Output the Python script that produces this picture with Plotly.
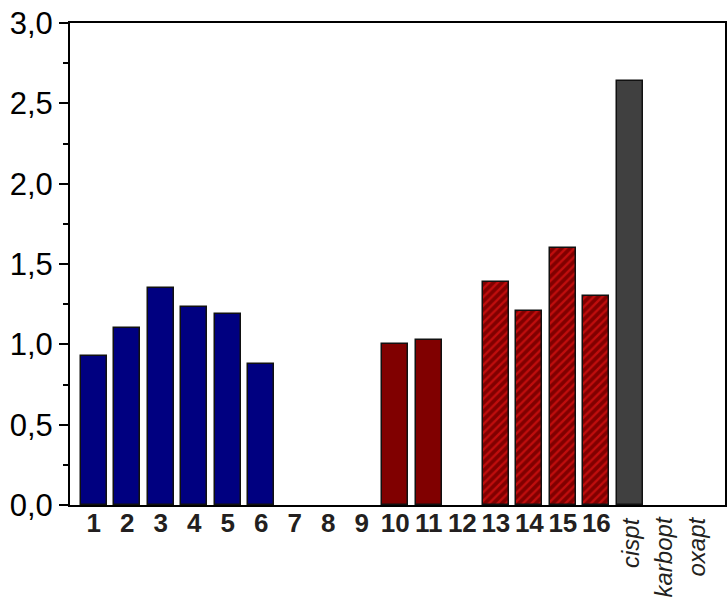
import plotly.graph_objects as go

categories = ["1","2","3","4","5","6","7","8","9","10","11","12","13","14","15","16","cispt","karbopt","oxapt"]
values = [0.93, 1.10, 1.35, 1.23, 1.19, 0.875, None, None, None, 1.0, 1.025, None, 1.39, 1.21, 1.60, 1.30, 2.64, None, None]
groups = ["blue"]*6 + ["none"]*3 + ["dred"]*2 + ["none"] + ["hatch"]*4 + ["grey"] + ["none"]*2
y_ticks = [0, 0.5, 1.0, 1.5, 2.0, 2.5, 3.0]
y_labels = ["0,0", "0,5", "1,0", "1,5", "2,0", "2,5", "3,0"]

colors = {"blue": "#000080", "dred": "#800000", "hatch": "#800000", "grey": "#404040", "none": "white"}
xs = list(range(len(categories)))
FONT = "Arial, Liberation Sans, sans-serif"

fig = go.Figure()
for g in ["blue", "dred", "hatch", "grey"]:
    idx = [i for i in xs if groups[i] == g and values[i] is not None]
    marker = dict(color=colors[g], line=dict(color="#111111", width=1.5))
    if g == "hatch":
        marker["pattern"] = dict(shape="/", fgcolor="#ff1a1a", bgcolor="#800000", size=6, solidity=0.4)
    fig.add_trace(go.Bar(x=idx, y=[values[i] for i in idx], width=0.77, marker=marker, showlegend=False))

numeric = [i for i in xs if categories[i].isdigit()]
text_cats = [i for i in xs if not categories[i].isdigit()]

fig.update_xaxes(
    range=[-0.71, 18.84], tickmode="array", tickvals=numeric,
    ticktext=["<b>%s</b>" % categories[i] for i in numeric],
    tickfont=dict(family=FONT, size=26, color="#231f20"),
    ticklabelstandoff=-6,
    showline=True, linecolor="black", linewidth=2, mirror=True,
    ticks="", showgrid=False, zeroline=False,
)
fig.update_yaxes(
    range=[0, 3.0], tickmode="array", tickvals=y_ticks, ticktext=y_labels,
    tickfont=dict(family=FONT, size=31, color="black"),
    showline=True, linecolor="black", linewidth=2, mirror=True,
    ticks="outside", ticklen=9, tickwidth=2, tickcolor="black",
    minor=dict(tickmode="array", tickvals=[0.25, 0.75, 1.25, 1.75, 2.25, 2.75], ticks="outside", ticklen=5, tickwidth=2, tickcolor="black"),
    showgrid=False, zeroline=False,
)
for i in text_cats:
    fig.add_annotation(x=i, y=-0.02, xref="x", yref="paper", text="<i>%s</i>" % categories[i],
                       textangle=-90, showarrow=False, xanchor="center", yanchor="top",
                       font=dict(family=FONT, size=24, color="#231f20"))

fig.update_layout(
    width=728, height=599, margin=dict(l=70, r=1, t=23, b=94),
    paper_bgcolor="white", plot_bgcolor="white", bargap=0,
)
fig.write_html("out.html")
